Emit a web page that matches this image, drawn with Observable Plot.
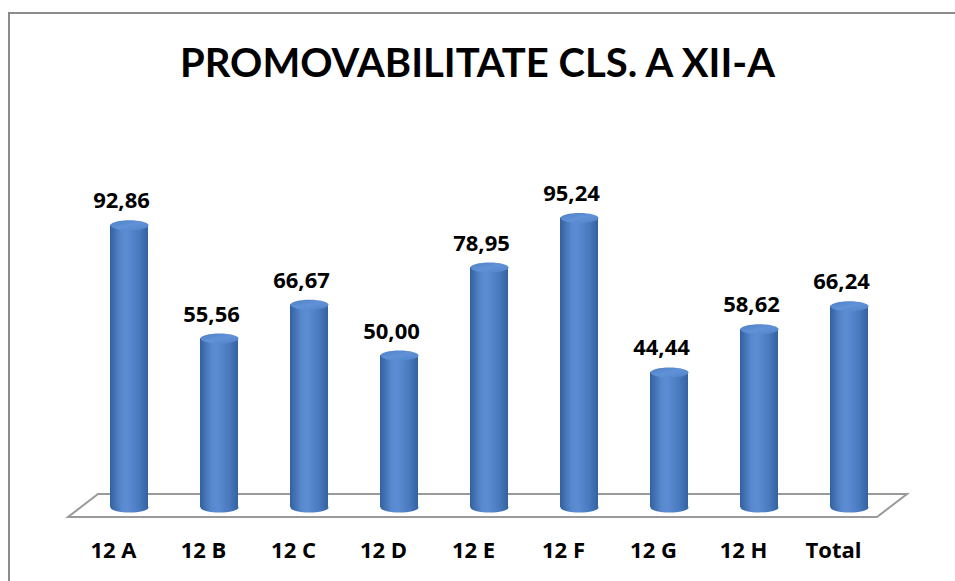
<!DOCTYPE html>
<html>
<head>
<meta charset="utf-8">
<script src="https://cdn.jsdelivr.net/npm/d3@7"></script>
<script src="https://cdn.jsdelivr.net/npm/@observablehq/plot@0.6"></script>
<style>
  html, body { margin: 0; padding: 0; background: #fff; overflow: hidden; }
  #wrap { position: relative; width: 955px; height: 581px; overflow: hidden; font-family: Lato, "Open Sans", sans-serif; }
  #frame { position: absolute; left: 8px; top: 12px; width: 1000px; height: 700px; border: 2px solid #8c8c8c; box-sizing: border-box; }
  #title { position: absolute; left: 0; top: 0; width: 955px; height: 110px; line-height: 124px; text-align: center; font-weight: 700; font-size: 40px; color: #000; }
  #chart { position: absolute; left: 0; top: 110px; }
</style>
</head>
<body>
<div id="wrap">
  <div id="frame"></div>
  <div id="title">PROMOVABILITATE CLS. A XII-A</div>
  <div id="chart"></div>
</div>
<script>
const categories = ["12 A", "12 B", "12 C", "12 D", "12 E", "12 F", "12 G", "12 H", "Total"];
const values = [92.86, 55.56, 66.67, 50.00, 78.95, 95.24, 44.44, 58.62, 66.24];
const valueLabels = ["92,86", "55,56", "66,67", "50,00", "78,95", "95,24", "44,44", "58,62", "66,24"];

const data = categories.map((c, i) => ({cat: c, v: values[i], label: valueLabels[i]}));

const RX = 19, RY = 5;
const ellipse = {
  draw(ctx) {
    const k = 0.5522847;
    ctx.moveTo(-RX, 0);
    ctx.bezierCurveTo(-RX, -RY * k, -RX * k, -RY, 0, -RY);
    ctx.bezierCurveTo(RX * k, -RY, RX, -RY * k, RX, 0);
    ctx.bezierCurveTo(RX, RY * k, RX * k, RY, 0, RY);
    ctx.bezierCurveTo(-RX * k, RY, -RX, RY * k, -RX, 0);
    ctx.closePath();
  }
};

const labelFont = "'Open Sans', Lato, sans-serif";
const W = 955, H = 471;
const plot = Plot.plot({
  width: W,
  height: H,
  marginLeft: 84,
  marginRight: 61,
  marginTop: 93,
  marginBottom: 74,
  x: {domain: categories, padding: 0, axis: null},
  y: {domain: [0, 100], axis: null},
  style: {fontFamily: labelFont, background: "transparent"},
  marks: [
    Plot.dot(data, {x: "cat", y: 0, symbol: ellipse, r: 10, fill: "url(#cyl)", stroke: "none"}),
    Plot.barY(data, {x: "cat", y: "v", insetLeft: 26, insetRight: 26, fill: "url(#cyl)"}),
    Plot.dot(data, {x: "cat", y: "v", symbol: ellipse, r: 10, fill: "url(#cap)", stroke: "none"}),
    Plot.text(data, {x: "cat", y: "v", text: "label", dx: -8, dy: -24, fontSize: 22, fontWeight: 700, fill: "#000"}),
    Plot.text(data, {x: "cat", text: "cat", frameAnchor: "bottom", dx: -16, dy: 50, fontSize: 22, fontWeight: 700, fill: "#000"})
  ]
});

const svg = d3.select(plot);
const defs = svg.insert("defs", ":first-child");
const g1 = defs.append("linearGradient").attr("id", "cyl").attr("x1", 0).attr("x2", 1).attr("y1", 0).attr("y2", 0);
[["0%", "#33619f"], ["30%", "#5888ce"], ["45%", "#5c8dd4"], ["75%", "#4a7bc0"], ["100%", "#33629f"]]
  .forEach(([o, c]) => g1.append("stop").attr("offset", o).attr("stop-color", c));
const g2 = defs.append("linearGradient").attr("id", "cap").attr("x1", 0).attr("x2", 1).attr("y1", 0).attr("y2", 1);
[["0%", "#4e80c5"], ["50%", "#6192d8"], ["100%", "#5082c7"]]
  .forEach(([o, c]) => g2.append("stop").attr("offset", o).attr("stop-color", c));

// floor parallelogram derived from the scales
const xs = plot.scale("x"), ys = plot.scale("y");
const [x0, x1] = xs.range;
const yb = ys.apply(0);
const floor = d3.path();
floor.moveTo(x0 + 14, yb - 13);
floor.lineTo(x1 + 13, yb - 13);
floor.lineTo(x1 - 17, yb + 10);
floor.lineTo(x0 - 16, yb + 10);
floor.closePath();
svg.insert("path", "g").attr("d", floor.toString()).attr("fill", "#fff").attr("stroke", "#9a9a9a").attr("stroke-width", 2);

document.getElementById("chart").appendChild(plot);
</script>
</body>
</html>
